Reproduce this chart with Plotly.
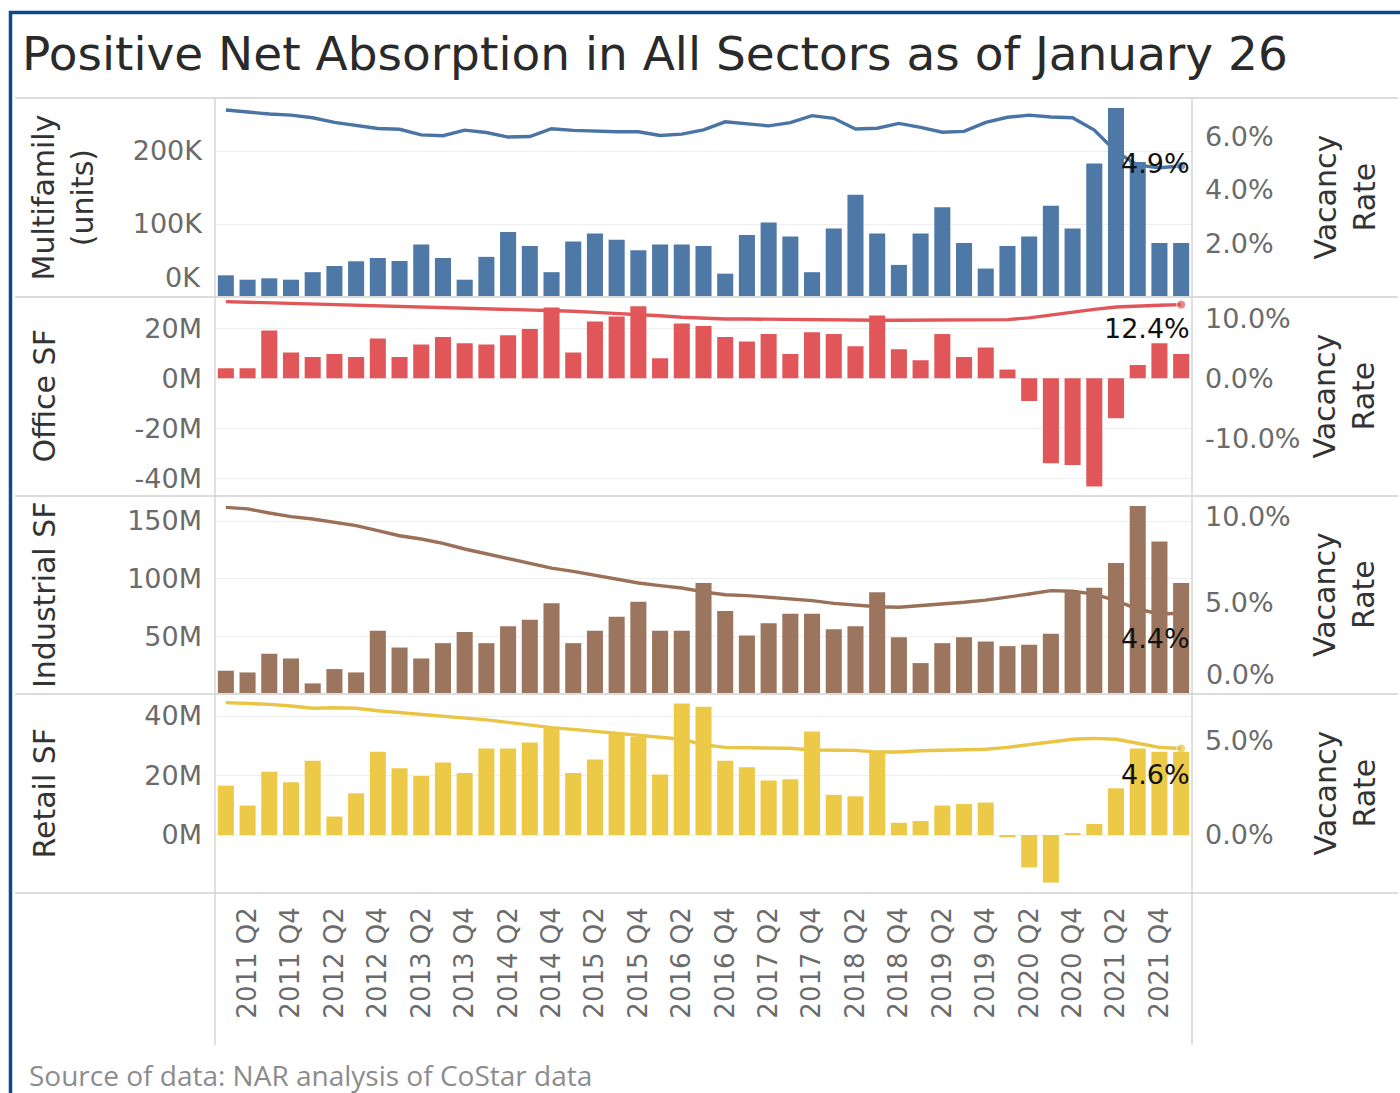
import plotly.graph_objects as go

W, H = 1400, 1093

quarters = [
    "2011 Q1", "2011 Q2", "2011 Q3", "2011 Q4", "2012 Q1", "2012 Q2", "2012 Q3", "2012 Q4",
    "2013 Q1", "2013 Q2", "2013 Q3", "2013 Q4", "2014 Q1", "2014 Q2", "2014 Q3", "2014 Q4",
    "2015 Q1", "2015 Q2", "2015 Q3", "2015 Q4", "2016 Q1", "2016 Q2", "2016 Q3", "2016 Q4",
    "2017 Q1", "2017 Q2", "2017 Q3", "2017 Q4", "2018 Q1", "2018 Q2", "2018 Q3", "2018 Q4",
    "2019 Q1", "2019 Q2", "2019 Q3", "2019 Q4", "2020 Q1", "2020 Q2", "2020 Q3", "2020 Q4",
    "2021 Q1", "2021 Q2", "2021 Q3", "2021 Q4", "2022 Q1",
]
x_tick_labels = [
    "2011 Q2", "2011 Q4", "2012 Q2", "2012 Q4", "2013 Q2", "2013 Q4", "2014 Q2", "2014 Q4",
    "2015 Q2", "2015 Q4", "2016 Q2", "2016 Q4", "2017 Q2", "2017 Q4", "2018 Q2", "2018 Q4",
    "2019 Q2", "2019 Q4", "2020 Q2", "2020 Q4", "2021 Q2", "2021 Q4",
]

# Net absorption
multifamily_units = [
    29700, 23700, 25600, 23700, 34000, 42500, 48900, 53400, 49300, 72000,
    53400, 23700, 55000, 89000, 70000, 34000, 76000, 87000, 78500, 64000,
    72000, 72000, 70000, 32000, 85000, 102000, 83000, 34000, 94000, 140000,
    87000, 44000, 87000, 123000, 74000, 39000, 70000, 83000, 125000, 94000,
    183000, 259000, 185000, 74000, 74000,
]
office_sf = [
    4.0, 4.0, 19.1, 10.3, 8.5, 9.7, 8.5, 15.9, 8.5, 13.5,
    16.5, 14.0, 13.5, 17.2, 19.7, 28.3, 10.3, 22.7, 24.7, 28.8,
    8.0, 21.9, 20.9, 16.5, 14.7, 17.7, 9.7, 18.4, 17.7, 12.8,
    25.1, 11.6, 7.2, 17.7, 8.5, 12.3, 3.5, -9.1, -34.0, -34.7,
    -43.3, -16.0, 5.3, 14.0, 9.7,
]
industrial_sf = [
    20.2, 18.7, 34.9, 30.8, 9.2, 21.6, 18.7, 54.8, 40.3, 30.8,
    44.1, 53.7, 44.1, 58.8, 64.3, 78.7, 44.1, 54.8, 66.9, 80.1,
    54.8, 54.8, 96.3, 72.0, 50.7, 61.4, 69.5, 69.5, 56.2, 58.8,
    88.2, 49.3, 26.8, 44.1, 49.3, 45.5, 41.5, 42.7, 52.2, 88.2,
    92.2, 113.5, 163.1, 132.3, 96.3,
]
retail_sf = [
    16.6, 9.9, 21.3, 17.7, 25.0, 6.2, 14.0, 28.0, 22.4, 19.8,
    24.4, 20.8, 29.1, 29.1, 31.1, 36.1, 20.8, 25.4, 34.2, 33.0,
    20.3, 44.2, 43.1, 25.0, 22.8, 18.3, 18.7, 34.8, 13.5, 13.0,
    28.0, 4.1, 4.7, 9.9, 10.4, 10.9, -0.8, -10.9, -16.0, 0.6,
    3.7, 15.7, 29.1, 28.0, 28.0,
]

# Vacancy rates (%)
multifamily_vac = [
    6.99, 6.90, 6.84, 6.80, 6.70, 6.53, 6.40, 6.30, 6.27, 6.06,
    6.03, 6.24, 6.15, 5.98, 6.00, 6.29, 6.23, 6.19, 6.18, 6.18,
    6.04, 6.09, 6.25, 6.55, 6.49, 6.40, 6.52, 6.78, 6.68, 6.28,
    6.31, 6.49, 6.34, 6.16, 6.19, 6.53, 6.72, 6.80, 6.73, 6.70,
    6.24, 5.43, 4.93, 4.83, 4.90,
]
office_vac = [
    12.9, 12.8, 12.7, 12.65, 12.6, 12.5, 12.4, 12.3, 12.2, 12.1,
    12.0, 11.9, 11.8, 11.7, 11.6, 11.5, 11.3, 11.1, 10.95, 10.8,
    10.55, 10.3, 10.1, 10.0, 10.0, 9.95, 9.9, 9.9, 9.85, 9.8,
    9.8, 9.8, 9.8, 9.8, 9.8, 9.85, 9.9, 10.2, 10.7, 11.2,
    11.6, 12.0, 12.2, 12.3, 12.4,
]
industrial_vac = [
    10.56, 10.47, 10.23, 10.02, 9.88, 9.71, 9.50, 9.21, 8.91, 8.72,
    8.47, 8.14, 7.85, 7.56, 7.31, 7.03, 6.84, 6.63, 6.40, 6.16,
    6.01, 5.87, 5.65, 5.48, 5.43, 5.33, 5.23, 5.14, 4.98, 4.88,
    4.78, 4.75, 4.84, 4.94, 5.04, 5.17, 5.33, 5.52, 5.72, 5.68,
    5.52, 5.14, 4.65, 4.36, 4.40,
]
retail_vac = [
    7.04, 7.00, 6.95, 6.86, 6.74, 6.77, 6.74, 6.61, 6.51, 6.42,
    6.33, 6.24, 6.12, 5.99, 5.85, 5.71, 5.62, 5.52, 5.41, 5.32,
    5.23, 5.09, 4.80, 4.66, 4.64, 4.63, 4.61, 4.52, 4.52, 4.50,
    4.41, 4.41, 4.48, 4.50, 4.52, 4.56, 4.66, 4.79, 4.96, 5.09,
    5.14, 5.09, 4.88, 4.66, 4.60,
]

panel_titles = ["Multifamily<br>(units)", "Office SF", "Industrial SF", "Retail SF"]
bar_ticks = [[100000, 200000], [20, 0, -20, -40], [50, 100, 150], [40, 20, 0]]
bar_tick_text = [["100K", "200K"], ["20M", "0M", "-20M", "-40M"], ["50M", "100M", "150M"], ["40M", "20M", "0M"]]
rate_ticks = [[2, 4, 6], [10, 0, -10], [5, 10], [5, 0]]
rate_tick_text = [["2.0%", "4.0%", "6.0%"], ["10.0%", "0.0%", "-10.0%"], ["5.0%", "10.0%"], ["5.0%", "0.0%"]]

BLUE, RED, BROWN, YELLOW = "#4e79a7", "#e15759", "#9c755f", "#edc948"

panels = [
    dict(bars=multifamily_units, rate=multifamily_vac, color=BLUE, line="#4a74a3",
         top=98, bot=297, bar_range=[0, 272600], rate_range=[0, 7.44], label_shift=2, title_x=62),
    dict(bars=office_sf, rate=office_vac, color=RED, line="#e15759",
         top=297, bot=496, bar_range=[-47.1, 32.5], rate_range=[-19.5, 13.67], label_shift=-24, title_x=44),
    dict(bars=industrial_sf, rate=industrial_vac, color=BROWN, line="#9a7059",
         top=496, bot=694, bar_range=[0, 171.7], rate_range=[-0.29, 11.22], label_shift=-25, title_x=44),
    dict(bars=retail_sf, rate=retail_vac, color=YELLOW, line="#eac444",
         top=694, bot=893, bar_range=[-19.5, 47.4], rate_range=[-3.09, 7.5], label_shift=-26, title_x=44),
]

def px(x):
    return x / W

def py(y):
    return 1 - y / H

TICK_FONT = dict(family="DejaVu Sans", size=27, color="#6b6b6b")
XTICK_FONT = dict(family="DejaVu Sans", size=26, color="#6b6b6b")
TITLE_FONT = dict(family="DejaVu Sans", size=30, color="#333333")

fig = go.Figure()
layout = dict(
    width=W, height=H, autosize=False,
    margin=dict(l=0, r=0, t=0, b=0),
    paper_bgcolor="white", plot_bgcolor="white",
    showlegend=False, bargap=0.26,
)
annotations = []
shapes = []
x_dom = [px(215), px(1192)]

for k, p in enumerate(panels):
    xname = "x" if k == 0 else f"x{k+1}"
    xkey = "xaxis" if k == 0 else f"xaxis{k+1}"
    r = 2 * k + 1
    b = 2 * k + 2
    rname = "y" if r == 1 else f"y{r}"
    rkey = "yaxis" if r == 1 else f"yaxis{r}"
    bname = f"y{b}"
    bkey = f"yaxis{b}"
    dom = [py(p["bot"]), py(p["top"])]

    n = len(p["rate"])
    fig.add_trace(go.Scatter(
        x=quarters, y=p["rate"], xaxis=xname, yaxis=rname,
        mode="lines+markers", line=dict(color=p["line"], width=3.4),
        marker=dict(size=[0] * (n - 1) + [9], color=p["line"]),
        hoverinfo="skip",
    ))
    fig.add_trace(go.Bar(
        x=quarters, y=p["bars"], xaxis=xname, yaxis=bname,
        marker=dict(color=p["color"], line=dict(width=0)),
        hoverinfo="skip",
    ))

    layout[xkey] = dict(
        domain=x_dom, anchor=rname, type="category",
        categoryorder="array", categoryarray=quarters,
        range=[-0.5, len(quarters) - 0.5],
        showgrid=False, zeroline=False, showline=False,
        showticklabels=(k == 3), tickvals=x_tick_labels, ticktext=x_tick_labels,
        tickangle=-90, tickfont=XTICK_FONT, ticks="", ticklabelstandoff=8,
    )
    layout[rkey] = dict(
        domain=dom, anchor=xname, side="right", range=p["rate_range"],
        tickvals=rate_ticks[k], ticktext=rate_tick_text[k], tickfont=TICK_FONT,
        showgrid=False, zeroline=False, showline=False, ticks="",
        ticklabelstandoff=12,
    )
    layout[bkey] = dict(
        anchor=xname, overlaying=rname, side="left", range=p["bar_range"],
        tickvals=bar_ticks[k], ticktext=bar_tick_text[k], tickfont=TICK_FONT,
        showgrid=True, gridcolor="#eeeeee", gridwidth=1,
        zeroline=False, showline=False, ticks="", ticklabelstandoff=12,
    )

    # End-value label
    annotations.append(dict(
        x=quarters[-1], y=p["rate"][-1], xref=xname, yref=rname,
        text=f"{p['rate'][-1]:.1f}%", showarrow=False,
        xanchor="right", yanchor="middle", xshift=11, yshift=p["label_shift"],
        font=dict(family="DejaVu Sans", size=27, color="#111111"),
    ))
    # Axis titles
    mid = (p["top"] + p["bot"]) / 2
    annotations.append(dict(
        x=px(p["title_x"]), y=py(mid), xref="paper", yref="paper", text=panel_titles[k],
        showarrow=False, textangle=-90, xanchor="center", yanchor="middle",
        font=TITLE_FONT,
    ))
    annotations.append(dict(
        x=px(1344), y=py(mid), xref="paper", yref="paper", text="Vacancy<br>Rate",
        showarrow=False, textangle=-90, xanchor="center", yanchor="middle",
        font=TITLE_FONT,
    ))

# Edge tick labels that Tableau nudges inside the pane
annotations.append(dict(
    x=px(203), y=0, xref="paper", yref="y2", text="0K", showarrow=False,
    xanchor="right", yanchor="middle", yshift=20, font=TICK_FONT,
))
annotations.append(dict(
    x=px(1204), y=0, xref="paper", yref="y5", text="0.0%", showarrow=False,
    xanchor="left", yanchor="middle", yshift=15, font=TICK_FONT,
))

# Title and source
annotations.append(dict(
    x=px(20), y=py(53), xref="paper", yref="paper",
    text="Positive Net Absorption in All Sectors as of January 26",
    showarrow=False, xanchor="left", yanchor="middle",
    font=dict(family="DejaVu Sans", size=47, color="#2a2a2a"),
))
annotations.append(dict(
    x=px(27), y=py(1075), xref="paper", yref="paper",
    text="Source of data: NAR analysis of CoStar data",
    showarrow=False, xanchor="left", yanchor="middle",
    font=dict(family="Open Sans", size=28, color="#8c8c8c"),
))

# Pane separators
for yv in [98, 297, 496, 694, 893]:
    shapes.append(dict(type="line", xref="paper", yref="paper",
                       x0=px(15), x1=px(1398), y0=py(yv), y1=py(yv),
                       line=dict(color="#dcdcdc", width=2)))
for xv in [215, 1192]:
    shapes.append(dict(type="line", xref="paper", yref="paper",
                       x0=px(xv), x1=px(xv), y0=py(98), y1=py(1045),
                       line=dict(color="#d6d6d6", width=1.5)))
# Outer frame (left and top visible)
shapes.append(dict(type="rect", xref="paper", yref="paper",
                   x0=px(10.5), x1=px(1404), y0=py(1100), y1=py(12.5),
                   line=dict(color="#0c4a8e", width=3.5)))

layout["annotations"] = annotations
layout["shapes"] = shapes
fig.update_layout(**layout)
fig.write_html("out.html")
